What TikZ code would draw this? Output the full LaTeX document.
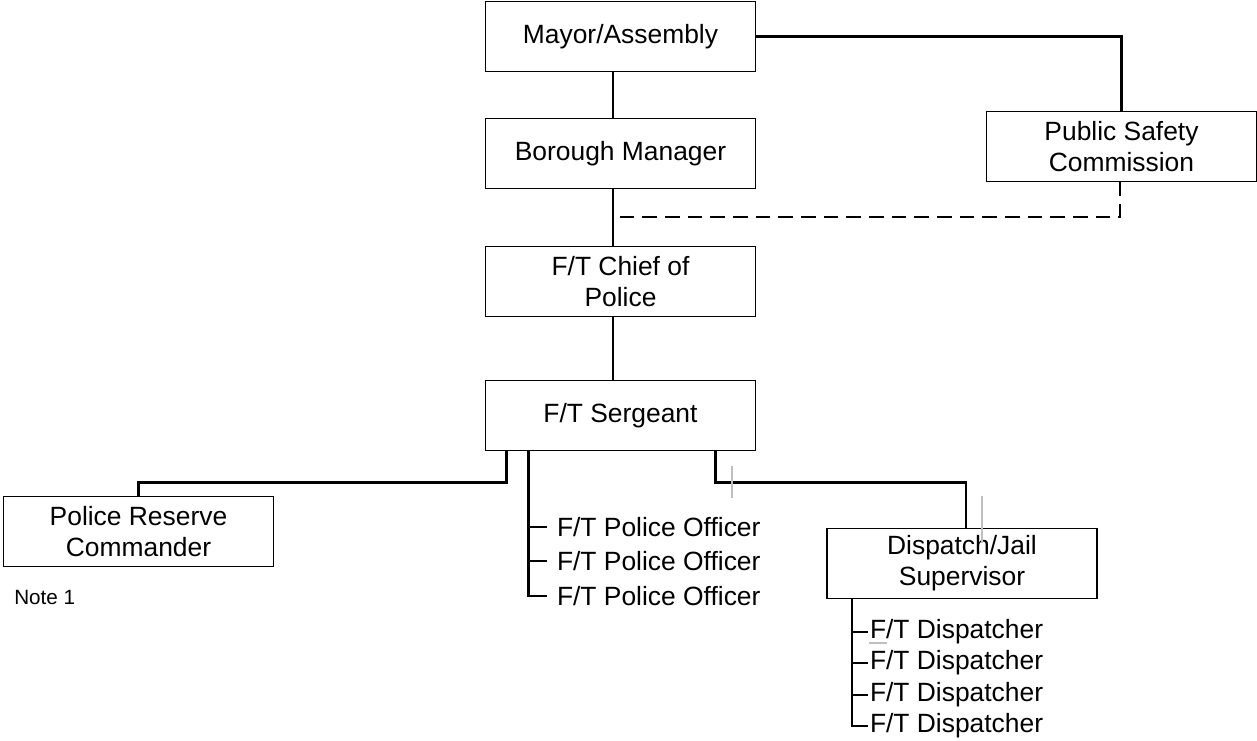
\documentclass[tikz,border=0pt]{standalone}
\usepackage{fontspec}
\setmainfont{Liberation Sans}
\usetikzlibrary{positioning}

\begin{document}
\begin{tikzpicture}[
    x=0.75pt, y=-0.75pt,
    node distance=35pt,
    font=\fontsize{19.8}{23.5}\selectfont,
    post/.style={
		rectangle,
		draw=black,
		line width=1.4pt,
		align=center,
		minimum width=202.5pt,
		minimum height=52.5pt,
		inner sep=0pt,
		outer sep=0pt,
		fill=white
	},
	staff/.style={
		anchor=west,
		inner ysep=0pt,
		inner xsep=7.5pt,
		outer sep=0pt
	},
	link/.style={
		line width=1.9pt
	},
	glitch/.style={
		draw=black!25,
		line width=2.2pt
	}
  ]
  \useasboundingbox (0,0) rectangle (1257,741);

  % We start by placing the boxes
  \node [post] (mayor) at (620.5,36.5) {Mayor/Assembly};
  \node [post, below=35.25pt of mayor] (boro) {Borough Manager};
  \node [post, below=43.5pt of boro] (chief) {F/T Chief of\\Police};
  \node [post, below=48pt of chief] (sgt) {F/T Sergeant};
  \node [post] (psc) at (1121.5,146.5) {Public Safety\\Commission};
  \node [post] (reserve) at (138.5,531.5) {Police Reserve\\Commander};
  \node [post] (disp) at (962,563.5) {Dispatch/Jail\\Supervisor};

  \node [anchor=west, inner sep=0pt, font=\fontsize{15.5}{18}\selectfont] (note) at (14,597) {Note 1};

  \node [staff] (off1) at (547,527) {F/T Police Officer};
  \node [staff] (off2) at (547,561) {F/T Police Officer};
  \node [staff] (off3) at (547,596) {F/T Police Officer};

  \foreach \n/\y in {1/632,2/663,3/695,4/726}
    \node [staff, inner xsep=1.5pt] (dsp\n) at (868,\y) {F/T Dispatcher};

  % the lines
  \draw [link] ([xshift=-5.6pt]mayor.south) -- ([xshift=-5.6pt]boro.north);
  \draw [link] ([xshift=-5.6pt]boro.south) -- ([xshift=-5.6pt]chief.north);
  \draw [link] ([xshift=-5.6pt]chief.south) -- ([xshift=-5.6pt]sgt.north);
  \draw [link] (mayor.east) -| (psc.north);

  \coordinate (dashend) at (620,217);
  \draw [link, dash pattern=on 11pt off 6pt] ([xshift=-1pt]psc.south) |- (dashend);

  \draw [link] ([xshift=-85.5pt]sgt.south) -- ++(0,32) -| (reserve.north);
  \draw [link] ([xshift=71.25pt]sgt.south) -- ++(0,32) -| ([xshift=3pt]disp.north);

  \draw [link] ([xshift=-69pt]sgt.south) |- (off3.west);
  \draw [link] (off1.west) -- ++(-18.5,0);
  \draw [link] (off2.west) -- ++(-18.5,0);

  \draw [link] ([xshift=-82.5pt]disp.south) |- (dsp4.west);
  \foreach \n in {1,2,3}
    \draw [link] (dsp\n.west) -- ++(-16.5,0);

  % stray grey marks
  \draw [glitch] (732,466) -- (732,498);
  \draw [glitch] (982,496) -- (982,543);
  \draw [glitch, line width=0.8pt] (869,643) -- (887,643);

\end{tikzpicture}
\end{document}
